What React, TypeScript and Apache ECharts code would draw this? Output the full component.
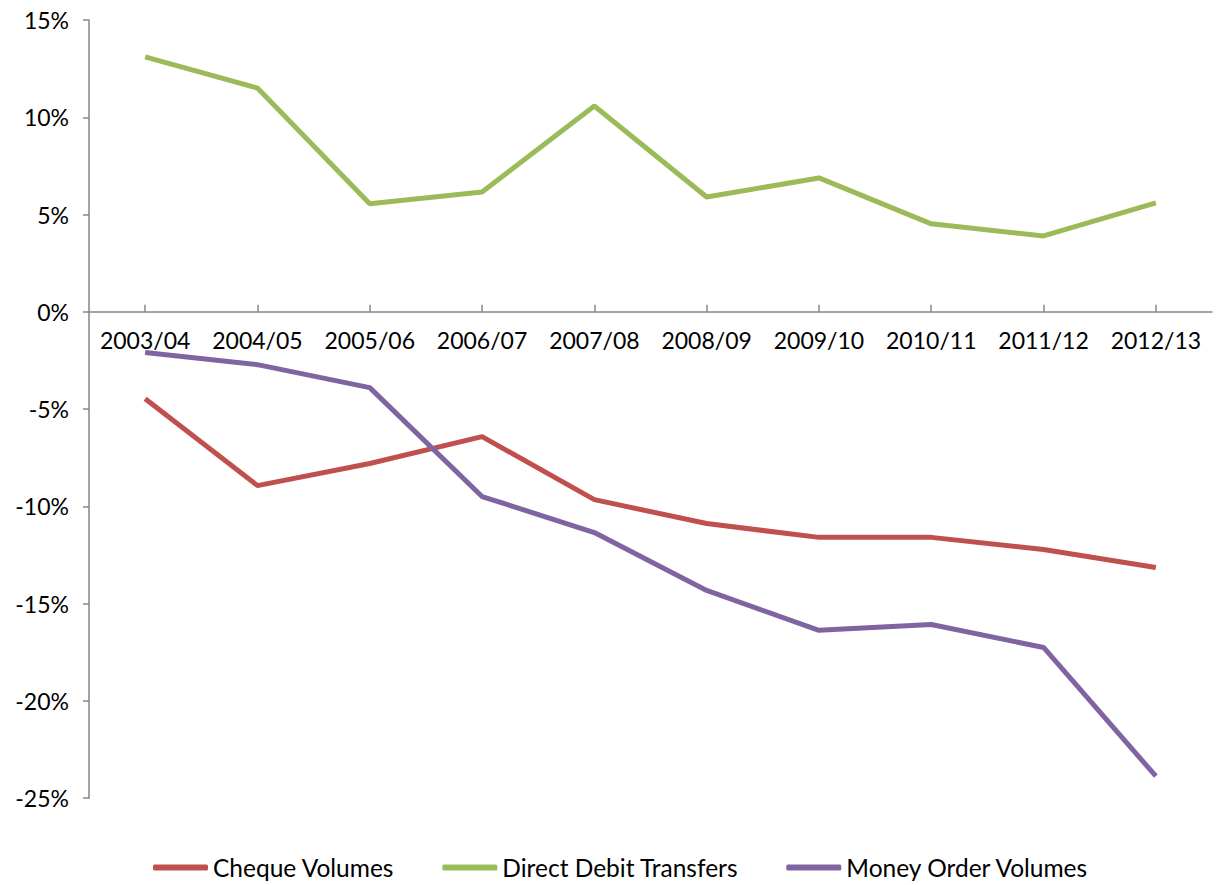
import React, { useEffect, useRef } from "react";
import * as echarts from "echarts";

const categories = ["2003/04", "2004/05", "2005/06", "2006/07", "2007/08", "2008/09", "2009/10", "2010/11", "2011/12", "2012/13"];
const chequeVolumes = [-4.47, -8.94, -7.8, -6.42, -9.66, -10.89, -11.6, -11.6, -12.22, -13.15];
const directDebit = [13.1, 11.5, 5.55, 6.16, 10.58, 5.9, 6.88, 4.52, 3.9, 5.6];
const moneyOrder = [-2.1, -2.72, -3.9, -9.5, -11.35, -14.33, -16.38, -16.08, -17.26, -23.88];
const yTicks = { min: -25, max: 15, interval: 5 };

const FONT = "Lato";

export default function App() {
  const ref = useRef<HTMLDivElement>(null);
  useEffect(() => {
    const chart = echarts.init(ref.current!, null, { renderer: "svg" });
    const mk = (name: string, data: number[], color: string) => ({
      name,
      type: "line",
      data,
      symbol: "none",
      lineStyle: { color, width: 5 },
      itemStyle: { color },
    });
    chart.setOption({
      animation: false,
      grid: { left: 89, right: 12, top: 20, bottom: 87, containLabel: false },
      legend: {
        bottom: 0,
        left: 148,
        itemWidth: 55,
        itemHeight: 6,
        itemGap: 48,
        icon: "roundRect",
        textStyle: { fontFamily: FONT, fontSize: 24.5, color: "#000" },
        data: ["Cheque Volumes", "Direct Debit Transfers", "Money Order Volumes"],
      },
      xAxis: {
        type: "category",
        data: categories,
        boundaryGap: true,
        axisLine: { onZero: true, lineStyle: { color: "#868686", width: 1.5 } },
        axisTick: { show: true, alignWithLabel: true, inside: true, length: 7, lineStyle: { color: "#868686", width: 1.5 } },
        axisLabel: { fontFamily: FONT, fontSize: 23, color: "#000", margin: -470, interval: 0 },
      },
      yAxis: {
        type: "value",
        min: yTicks.min,
        max: yTicks.max,
        interval: yTicks.interval,
        splitLine: { show: false },
        axisLine: { show: true, lineStyle: { color: "#868686", width: 1.5 } },
        axisTick: { show: true, length: 6, lineStyle: { color: "#868686", width: 1.5 } },
        axisLabel: { fontFamily: FONT, fontSize: 23, color: "#000", margin: 20, formatter: "{value}%" },
      },
      series: [
        mk("Cheque Volumes", chequeVolumes, "#C0504D"),
        mk("Direct Debit Transfers", directDebit, "#9BBB59"),
        mk("Money Order Volumes", moneyOrder, "#8064A2"),
      ],
    });
    return () => chart.dispose();
  }, []);
  return <div ref={ref} style={{ width: 1224, height: 885, position: "absolute", left: 0, top: 0 }} />;
}
